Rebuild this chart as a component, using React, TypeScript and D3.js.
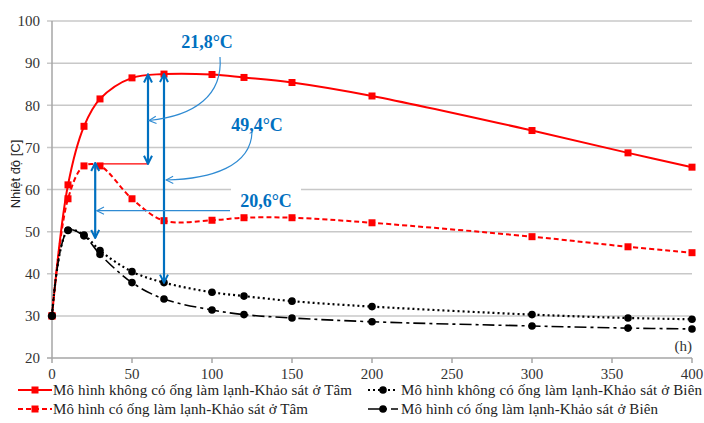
import React from "react";
import * as d3 from "d3";

const hours = [0, 10, 20, 30, 50, 70, 100, 120, 150, 200, 300, 360, 400];
const tamKhong = [30, 61.1, 75.0, 81.5, 86.5, 87.4, 87.3, 86.6, 85.4, 82.2, 74.0, 68.7, 65.3];
const tamCo = [30, 57.8, 65.6, 65.6, 57.8, 52.6, 52.7, 53.3, 53.3, 52.1, 48.8, 46.4, 45.0];
const bienKhong = [30, 50.3, 49.2, 45.5, 40.5, 37.9, 35.6, 34.7, 33.5, 32.2, 30.3, 29.5, 29.2];
const bienCo = [30, 50.3, 49.0, 44.6, 37.9, 34.0, 31.4, 30.3, 29.5, 28.6, 27.6, 27.1, 26.9];

const xTicks = [0, 50, 100, 150, 200, 250, 300, 350, 400];
const yTicks = [20, 30, 40, 50, 60, 70, 80, 90, 100];

const legendLabels = [
  "Mô hình không có ống làm lạnh-Khảo sát ở Tâm",
  "Mô hình có ống làm lạnh-Khảo sát ở Tâm",
  "Mô hình không có ống làm lạnh-Khảo sát ở Biên",
  "Mô hình có ống làm lạnh-Khảo sát ở Biên",
];

const diffLabels = ["21,8°C", "49,4°C", "20,6°C"];

const W = 704;
const H = 423;
const M = { left: 52, right: 12, top: 21, bottom: 65 };

export default function App() {
  const x = d3.scaleLinear().domain([0, 400]).range([M.left, W - M.right]);
  const y = d3.scaleLinear().domain([20, 100]).range([H - M.bottom, M.top]);

  const line = (vals: number[]) =>
    d3
      .line<number>()
      .x((_, i) => x(hours[i]))
      .y((d) => y(d))
      .curve(d3.curveCatmullRom.alpha(0.5))(vals) || "";

  const series = [
    { vals: tamKhong, color: "#ff0000", dash: "", marker: "sq", width: 2 },
    { vals: tamCo, color: "#ff0000", dash: "5,3", marker: "sq", width: 2 },
    { vals: bienKhong, color: "#000000", dash: "2,3", marker: "ci", width: 2.2 },
    { vals: bienCo, color: "#000000", dash: "12,4,3,4", marker: "ci", width: 1.6 },
  ];

  const serif = "Liberation Serif";
  const blue = "#0070C0";
  const lightBlue = "#2F8BD3";

  const drawMarker = (type: string, cx: number, cy: number, color: string, key: string) =>
    type === "sq" ? (
      <rect key={key} x={cx - 3.5} y={cy - 3.5} width={7} height={7} fill={color} />
    ) : (
      <circle key={key} cx={cx} cy={cy} r={3.8} fill={color} />
    );

  const legendItems = [
    { s: 0, lx1: 18, lx2: 52, tx: 53, ty: 395, tl: 299 },
    { s: 1, lx1: 18, lx2: 52, tx: 53, ty: 414, tl: 255 },
    { s: 2, lx1: 368, lx2: 398, tx: 401, ty: 395, tl: 301 },
    { s: 3, lx1: 368, lx2: 398, tx: 401, ty: 414, tl: 257 },
  ];

  return (
    <svg width={W} height={H} style={{ position: "absolute", left: 0, top: 0, background: "#fff" }}>
      <defs>
        <marker id="thick" viewBox="0 0 10 10" refX="9" refY="5" markerWidth="10" markerHeight="10"
          markerUnits="userSpaceOnUse" orient="auto-start-reverse">
          <path d="M1,1 L9,5 L1,9" fill="none" stroke={blue} strokeWidth="2" />
        </marker>
        <marker id="thin" viewBox="0 0 10 10" refX="9" refY="5" markerWidth="9" markerHeight="9"
          markerUnits="userSpaceOnUse" orient="auto">
          <path d="M1,1 L9,5 L1,9" fill="none" stroke={lightBlue} strokeWidth="1.2" />
        </marker>
      </defs>
      <rect x={0} y={0} width={W} height={H} fill="#fff" />
      {yTicks.map((t) => (
        <line key={"g" + t} x1={M.left - 5} x2={W - M.right} y1={y(t)} y2={y(t)}
          stroke={t === 20 ? "#a6a6a6" : "#c8c8c8"} strokeWidth={1.5} />
      ))}
      <line x1={M.left} x2={M.left} y1={y(100)} y2={y(20)} stroke="#a6a6a6" strokeWidth={1.5} />
      {xTicks.map((t) => (
        <line key={"xt" + t} x1={x(t)} x2={x(t)} y1={y(20)} y2={y(20) + 5} stroke="#a6a6a6" strokeWidth={1.5} />
      ))}
      {yTicks.map((t) => (
        <text key={"yl" + t} x={40} y={y(t)} dy="0.35em" textAnchor="end" fontFamily={serif} fontSize={15} fill="#333">
          {t}
        </text>
      ))}
      {xTicks.map((t) => (
        <text key={"xl" + t} x={x(t)} y={379} textAnchor="middle" fontFamily={serif} fontSize={15} fill="#333">
          {t}
        </text>
      ))}
      <text x={692} y={351} textAnchor="end" fontFamily={serif} fontSize={15} fill="#333">(h)</text>
      <text transform={`translate(20,${174}) rotate(-90)`} textAnchor="middle"
        fontFamily="Liberation Sans" fontSize={13} fill="#222">
        Nhiệt độ [C]
      </text>

      {series.map((s, si) => (
        <g key={"s" + si}>
          <path d={line(s.vals)} fill="none" stroke={s.color} strokeWidth={s.width} strokeDasharray={s.dash} />
          {s.vals.map((v, i) => drawMarker(s.marker, x(hours[i]), y(v), s.color, `m${si}-${i}`))}
        </g>
      ))}

      <line x1={x(30)} x2={x(60)} y1={y(66.1)} y2={y(66.1)} stroke="#ff0000" strokeWidth={1.3} />
      <line x1={x(60)} x2={x(60)} y1={y(87.3)} y2={y(66.1)} stroke={blue} strokeWidth={2.2}
        markerStart="url(#thick)" markerEnd="url(#thick)" />
      <line x1={x(70)} x2={x(70)} y1={y(87.4)} y2={y(37.9)} stroke={blue} strokeWidth={2.2}
        markerStart="url(#thick)" markerEnd="url(#thick)" />
      <line x1={x(27)} x2={x(27)} y1={y(66.3)} y2={y(48.5)} stroke={blue} strokeWidth={2.2}
        markerStart="url(#thick)" markerEnd="url(#thick)" />

      <path d={`M220,57 C223,95 195,116 149,120.5`} fill="none" stroke={lightBlue} strokeWidth={1.2} markerEnd="url(#thin)" />
      <path d={`M252,132 C251,166 212,179 166,180`} fill="none" stroke={lightBlue} strokeWidth={1.2} markerEnd="url(#thin)" />
      <rect x={231} y={188} width={70} height={22} fill="#fff" />
      <line x1={230} x2={x(28)} y1={210.7} y2={210.7} stroke={lightBlue} strokeWidth={1.2} markerEnd="url(#thin)" />

      <text x={207} y={48} textAnchor="middle" fontFamily={serif} fontWeight="bold" fontSize={18} fill={blue}>{diffLabels[0]}</text>
      <text x={257} y={131} textAnchor="middle" fontFamily={serif} fontWeight="bold" fontSize={18} fill={blue}>{diffLabels[1]}</text>
      <text x={266} y={207} textAnchor="middle" fontFamily={serif} fontWeight="bold" fontSize={18} fill={blue}>{diffLabels[2]}</text>

      {legendItems.map((it, k) => {
        const s = series[it.s];
        const cy = it.ty - 5;
        return (
          <g key={"lg" + k}>
            <line x1={it.lx1} x2={it.lx2} y1={cy} y2={cy} stroke={s.color} strokeWidth={s.width} strokeDasharray={s.dash} />
            {drawMarker(s.marker, (it.lx1 + it.lx2) / 2, cy, s.color, "lm" + k)}
            <text x={it.tx} y={it.ty} fontFamily={serif} fontSize={15} fill="#222" textLength={it.tl} lengthAdjust="spacing">
              {legendLabels[k]}
            </text>
          </g>
        );
      })}
    </svg>
  );
}
